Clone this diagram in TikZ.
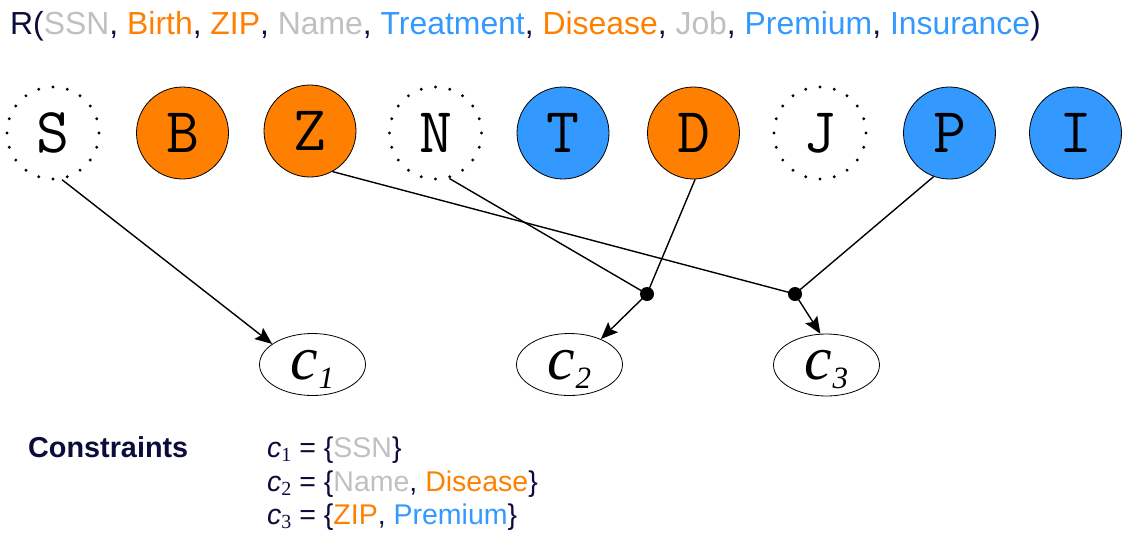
\documentclass[tikz,border=0pt]{standalone}
\usepackage{fontspec}
\setmainfont{Liberation Sans}
\newfontfamily\seriffont{Liberation Serif}
\usetikzlibrary{arrows.meta,shapes.geometric}

\definecolor{navy}{RGB}{12,12,60}
\definecolor{attrgray}{RGB}{192,192,192}
\definecolor{attrorange}{RGB}{255,128,0}
\definecolor{attrblue}{RGB}{51,153,255}

\newcommand{\agray}[1]{\textcolor{attrgray}{#1}}
\newcommand{\aorange}[1]{\textcolor{attrorange}{#1}}
\newcommand{\ablue}[1]{\textcolor{attrblue}{#1}}
% constraint name in the list: italic c with a serif subscript digit
\newcommand{\cname}[1]{{\itshape c}{\seriffont\fontsize{20}{20}\selectfont\raisebox{-4pt}{#1}}}
% constraint name inside an ellipse
\newcommand{\clabel}[1]{{\seriffont\itshape\fontsize{62}{62}\selectfont c\raisebox{-9pt}{\fontsize{31}{31}\selectfont #1}}}

\tikzset{
  attr/.style={circle, draw=black, line width=0.8pt, minimum size=92pt, inner sep=0pt,
    font=\ttfamily\fontsize{64}{64}\selectfont},
  quasiattr/.style={attr, line width=3.2pt, dash pattern=on 0pt off 14.45pt, line cap=round},
  orangeattr/.style={attr, fill=attrorange},
  blueattr/.style={attr, fill=attrblue},
  cons/.style={ellipse, draw=black, line width=0.8pt, fill=white, minimum width=106pt,
    minimum height=62pt, inner sep=0pt, text depth=0pt},
  link/.style={draw=black, line width=1.4pt},
  arrowlink/.style={link, -{Stealth[length=17pt,width=14pt,inset=3pt]}},
  junction/.style={circle, fill=black, minimum size=14pt, inner sep=0pt},
  txt/.style={anchor=base west, inner sep=0pt, text=navy},
}

\begin{document}
\begin{tikzpicture}[x=1pt, y=-1pt]
\useasboundingbox (0,0) rectangle (1133,541);

% relation schema
\node[txt, font=\fontsize{31.9}{36}\selectfont] (schema) at (10,34)
  {R(\agray{SSN}, \aorange{Birth}, \aorange{ZIP}, \agray{Name}, \ablue{Treatment}, \aorange{Disease}, \agray{Job}, \ablue{Premium}, \ablue{Insurance})};

% attributes
\node[quasiattr]  (S) at (53,133)     {S};
\node[orangeattr] (B) at (182.5,133)  {B};
\node[orangeattr] (Z) at (310,131)    {Z};
\node[quasiattr]  (N) at (435.5,133)  {N};
\node[blueattr]   (T) at (563,133)    {T};
\node[orangeattr] (D) at (693.5,133)  {D};
\node[quasiattr]  (J) at (820,133)    {J};
\node[blueattr]   (P) at (949.5,133)  {P};
\node[blueattr]   (I) at (1075.5,133) {I};

% constraints
\node[cons] (c1) at (312.5,364.5) {\clabel{1}};
\node[cons] (c2) at (569.5,364.5) {\clabel{2}};
\node[cons] (c3) at (826.5,365)   {\clabel{3}};

% junctions
\node[junction] (j1) at (647,294) {};
\node[junction] (j2) at (795,294) {};

% connectors
\draw[arrowlink] (S.-79) -- (c1.153);
\draw[link] (Z.-61) -- (j2.center);
\draw[link] (N.-73) -- (j1.center);
\draw[link] (D.-88) -- (j1.center);
\draw[link] (P.-110) -- (j2.center);
\draw[arrowlink] (j1.center) -- (c2.39);
\draw[arrowlink] (j2.center) -- (c3.101);

% constraint list
\node[txt, font=\bfseries\fontsize{28.8}{29}\selectfont] (ctitle) at (28,457) {Constraints};
\begin{scope}[every node/.style={txt, font=\fontsize{28.5}{30}\selectfont}]
  \node (k1) at (267,457) {\cname{1} = \{\agray{SSN}\}};
  \node (k2) at (267,491) {\cname{2} = \{\agray{Name}, \aorange{Disease}\}};
  \node (k3) at (267,524) {\cname{3} = \{\aorange{ZIP}, \ablue{Premium}\}};
\end{scope}
\end{tikzpicture}
\end{document}
